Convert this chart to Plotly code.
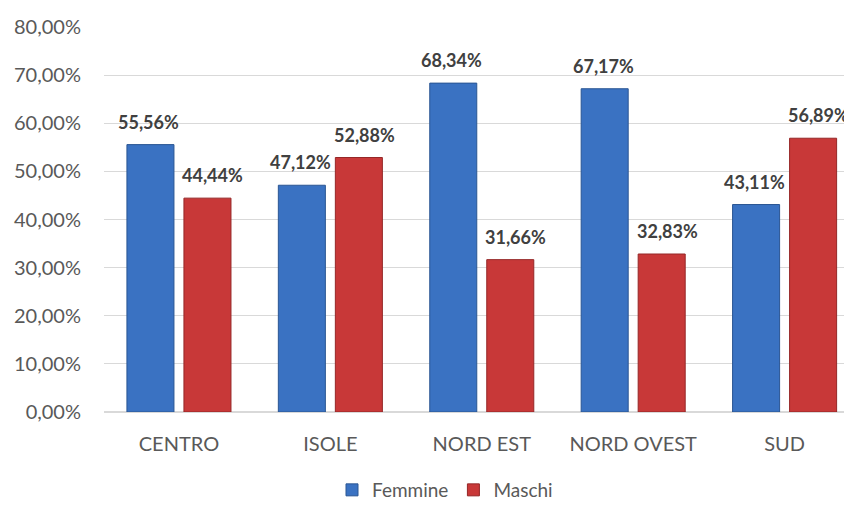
import plotly.graph_objects as go

categories = ["CENTRO", "ISOLE", "NORD EST", "NORD OVEST", "SUD"]
femmine = [55.56, 47.12, 68.34, 67.17, 43.11]
maschi = [44.44, 52.88, 31.66, 32.83, 56.89]

font_family = "Lato, 'Open Sans', sans-serif"

fig = go.Figure()
fig.add_trace(go.Bar(
    name="Femmine", x=categories, y=femmine,
    marker=dict(color="#3A72C2", line=dict(color="#2A5693", width=1)),
))
fig.add_trace(go.Bar(
    name="Maschi", x=categories, y=maschi,
    marker=dict(color="#C83838", line=dict(color="#952727", width=1)),
))

# data labels above bars
for vals, shift in ((femmine, -30), (maschi, 34)):
    for c, v in zip(categories, vals):
        fig.add_annotation(
            x=c, y=v, xref="x", yref="y", xshift=shift, yshift=10,
            text="<b>" + f"{v:.2f}".replace(".", ",") + "%</b>",
            showarrow=False, yanchor="bottom", xanchor="center",
            font=dict(family=font_family, size=18, color="#404040"),
        )

fig.update_layout(
    width=852, height=507,
    margin=dict(l=96, r=10, t=19, b=103),
    paper_bgcolor="white", plot_bgcolor="white",
    separators=",.",
    barmode="group", bargap=0.247, bargroupgap=0.175,
    font=dict(family=font_family, size=20, color="#595959"),
    showlegend=True,
    legend=dict(orientation="h", x=437 / 852, xanchor="center", xref="container",
                y=1 - 482 / 507, yanchor="middle", yref="container",
                font=dict(size=19, color="#595959"), itemwidth=30,
                tracegroupgap=0),
)
fig.update_yaxes(range=[0, 80], dtick=10, tickformat=".2f", ticksuffix="%",
                 showgrid=True, gridcolor="#D9D9D9", gridwidth=1,
                 zeroline=True, zerolinecolor="#D9D9D9", showline=False,
                 ticks="", ticklabelstandoff=22, automargin=False,
                 tickfont=dict(size=20, color="#595959"))
fig.update_xaxes(range=[-0.495, 4.432], showline=True, linecolor="#D9D9D9",
                 ticks="", automargin=False, ticklabelstandoff=14,
                 tickfont=dict(size=20, color="#595959"))

fig.write_html("out.html")
